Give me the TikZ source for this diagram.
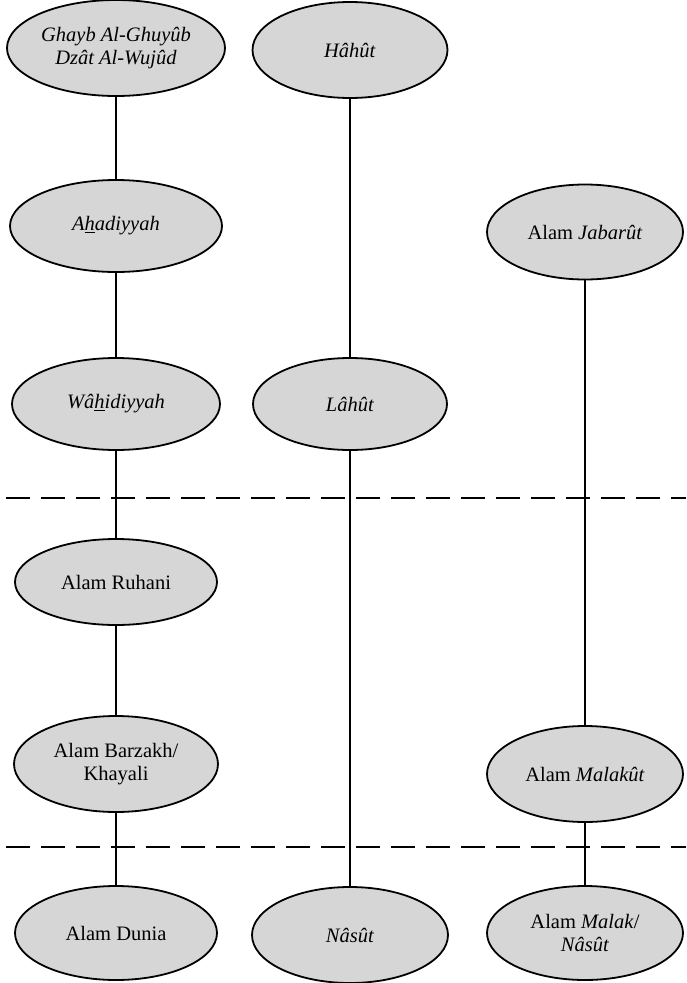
\documentclass[tikz,border=0pt]{standalone}
\usepackage{fontspec}
\setmainfont{Liberation Serif}
\usetikzlibrary{shapes.geometric}
\begin{document}
\begin{tikzpicture}[x=1pt,y=-1pt,
  blob/.style 2 args={ellipse, draw=black, line width=1.8pt, fill=black!16,
    minimum width=#1, minimum height=#2, inner sep=0pt, align=center,
    font=\fontsize{20.5}{23}\selectfont},
  link/.style={line width=1.5pt},
  divider/.style={line width=2pt, dash pattern=on 24pt off 11pt}]
\useasboundingbox (0,0) rectangle (686,983);
% dividers
\coordinate (d1l) at (6,498);
\coordinate (d1r) at (686,498);
\coordinate (d2l) at (6,847);
\coordinate (d2r) at (686,847);
\draw[divider] (d1l) -- (d1r);
\draw[divider] (d2l) -- (d2r);
% nodes
\node[blob={218pt}{96pt}] (g) at (116,48) {\textit{Ghayb Al-Ghuyûb}\\\textit{Dzât Al-Wujûd}};
\node[blob={195pt}{96pt}] (h) at (350,50) {\textit{Hâhût}};
\node[blob={212pt}{92pt}] (a) at (116,226) {\textit{A\underline{h}adiyyah}};
\node[blob={196pt}{95pt}] (j) at (585,232) {Alam \textit{Jabarût}};
\node[blob={208pt}{92pt}] (w) at (116,404) {\textit{Wâ\underline{h}idiyyah}};
\node[blob={194pt}{92pt}] (l) at (350,404) {\textit{Lâhût}};
\node[blob={202pt}{86pt}] (r) at (116,582) {Alam Ruhani};
\node[blob={204pt}{96pt}] (b) at (116,764) {Alam Barzakh/\\Khayali};
\node[blob={196pt}{96pt}] (m) at (585,774) {Alam \textit{Malakût}};
\node[blob={202pt}{94pt}] (d) at (116,933) {Alam Dunia};
\node[blob={196pt}{96pt}] (n) at (350,935) {\textit{Nâsût}};
\node[blob={196pt}{94pt}] (mn) at (585,933) {Alam \textit{Malak}/\\\textit{Nâsût}};
% connectors
\draw[link] (g) -- (a);
\draw[link] (a) -- (w);
\draw[link] (w) -- (r);
\draw[link] (r) -- (b);
\draw[link] (b) -- (d);
\draw[link] (h) -- (l);
\draw[link] (l) -- (n);
\draw[link] (j) -- (m);
\draw[link] (m) -- (mn);
\end{tikzpicture}
\end{document}
